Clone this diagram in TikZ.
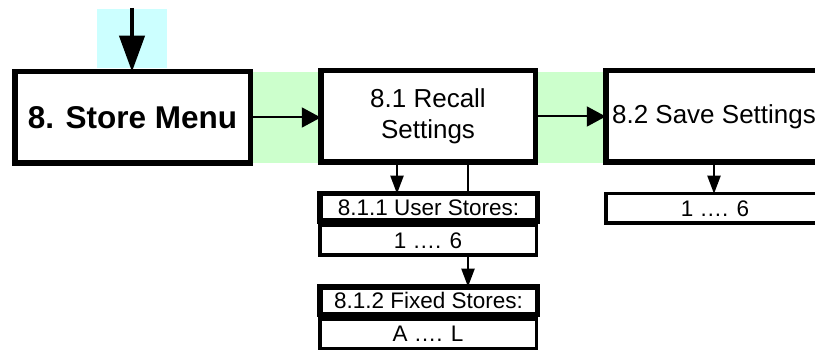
\documentclass[tikz,border=0pt]{standalone}
\usepackage{fontspec}
\setmainfont{Liberation Sans}
\usetikzlibrary{arrows.meta,backgrounds}
\definecolor{lgreen}{HTML}{CCFFCC}
\definecolor{lcyan}{HTML}{CCFFFF}
\begin{document}
\begin{tikzpicture}[x=1pt,y=-1pt,
  bigbox/.style={draw=black,line width=5.5pt,fill=white,inner sep=0pt,outer sep=0pt,align=center,minimum height=91.5pt,font=\fontsize{26}{31.5}\selectfont},
  subbox/.style={draw=black,line width=5.5pt,fill=white,inner sep=0pt,outer sep=0pt,minimum width=217.5pt,minimum height=27.5pt,font=\fontsize{22.5}{27}\selectfont},
  valbox/.style={draw=black,line width=3.5pt,fill=white,inner sep=0pt,outer sep=0pt,minimum width=216.5pt,minimum height=29.5pt,font=\fontsize{22.5}{27}\selectfont},
  bigarrow/.style={line width=4pt,-{Triangle[width=25pt,length=36pt]}},
  harrow/.style={line width=2pt,-{Triangle[width=20pt,length=19pt]}},
  varrow/.style={line width=2pt,-{Triangle[width=13pt,length=18pt]}},
]
\useasboundingbox (0,0) rectangle (815,350);
\begin{scope}
\clip (0,0) rectangle (815,350);
% nodes
\node[bigbox,minimum width=235.5pt,font=\fontsize{31.5}{36}\selectfont\bfseries] (sm) at (132.5,117.5) {8. Store Menu};
\node[bigbox,minimum width=214.5pt] (r81) at (428,116.5) {8.1 Recall\\Settings};
\node[bigbox,minimum width=216.5pt] (r82) at (714,116.5) {8.2 Save Settings};
\node[valbox] (uv) at (428,240.5) {1 …. 6};
\node[subbox] (u1) at (428.5,207.5) {8.1.1 User Stores:};
\node[valbox] (fv) at (428,333.5) {A …. L};
\node[subbox] (f1) at (428.5,300.5) {8.1.2 Fixed Stores:};
\node[valbox,minimum width=218.5pt] (sv) at (715,208.5) {1 …. 6};
\coordinate (top) at (132,8);
\coordinate (a1) at (397,0);
\coordinate (a2) at (468,0);
\begin{scope}[on background layer]
\fill[lcyan] (97,9) rectangle (167,68);
\fill[lgreen] (253,72) rectangle (318,163);
\fill[lgreen] (538,72) rectangle (603,163);
\draw[bigarrow] (top) -- (top |- sm.north);
\draw[harrow] (sm.east) -- (sm.east -| r81.west);
\draw[harrow] (r81.east) -- (r82.west);
\draw[varrow] (r81.south -| a1) -- (u1.north -| a1);
\draw[varrow] (r81.south -| a2) -- (f1.north -| a2);
\draw[varrow] (r82.south) -- (r82.south |- sv.north);
\end{scope}
\end{scope}
\end{tikzpicture}
\end{document}
